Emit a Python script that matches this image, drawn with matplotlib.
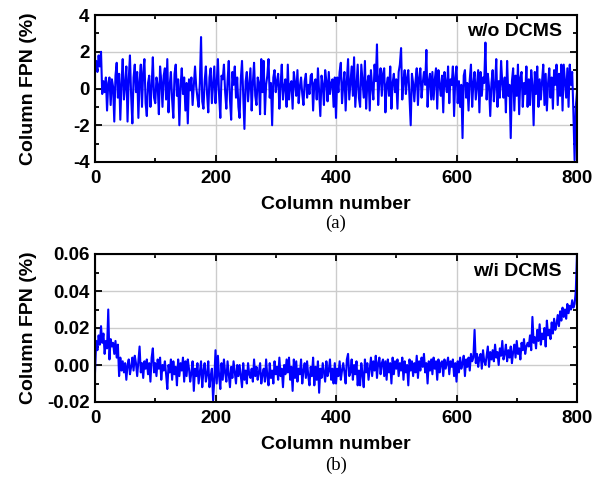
import numpy as np
import matplotlib
matplotlib.use('Agg')
from matplotlib import pyplot as plt
from matplotlib.ticker import MultipleLocator

# Column numbers sampled every 2 columns
columns = list(range(0, 801, 2))

# Column FPN without DCMS (%)
fpn_without = [
    1.0, 1.5, 0.9, 1.8, 1.2, 2.0, -0.3, 0.4, -0.2, 0.6, -1.2, 0.3, 0.6, -0.9, 0.5, 0.1, -1.8, 0.7, 1.4, -0.5,
    0.8, -1.7, 0.3, 1.6, -0.6, 0.2, 1.2, -1.8, 0.5, 1.8, -0.4, -1.9, 0.6, 1.3, -0.2, 0.9, -1.6, 0.4, 1.3, -1.0,
    0.9, 1.6, -0.8, -1.5, 0.3, 0.7, -1.0, 0.1, 1.7, -0.5, -0.8, 0.6, 0.2, -1.4, 1.2, 0.4, -1.0, 0.7, 1.1, -0.6,
    1.6, -1.3, 0.2, 0.9, -0.6, -1.6, 0.8, 1.3, -0.4, 0.5, -2.0, 0.1, 1.1, -0.3, 0.6, -1.2, 0.3, -1.9, 0.5, -0.1,
    0.6, -0.9, 0.2, 1.2, 0.1, -0.5, -1.0, 0.3, 2.8, -0.7, -1.1, 0.4, 1.2, -0.3, -1.3, 0.6, 1.1, -0.8, 0.2, 1.2,
    -0.8, 0.3, 1.6, -0.4, -1.6, 0.7, 0.5, 1.3, -0.2, -1.1, 0.4, 1.5, -0.6, -1.7, 0.9, 0.2, 1.2, -0.5, 0.6, -1.0,
    -1.6, 0.5, 1.5, -0.3, -2.2, 0.4, 0.9, -0.7, 0.2, 1.1, -1.2, 0.3, 1.4, -0.4, -0.9, 0.6, 0.3, -1.4, 1.6, -0.2,
    1.5, -1.4, 0.2, 0.7, 1.6, -0.5, 0.3, -2.0, 0.6, 1.0, -0.2, 0.4, 0.8, -1.1, 0.2, 1.3, -0.6, 0.1, 0.5, -1.0,
    1.3, -0.6, 0.2, 0.4, -1.1, 0.9, 0.3, -0.4, 1.0, -0.8, 0.1, 0.6, -0.3, -0.9, 0.4, 0.8, -0.5, 0.2, -0.3, 0.7,
    0.8, -1.2, 0.3, 0.5, -0.6, 1.1, -0.2, -1.5, 0.7, 0.2, -0.9, 1.0, 0.4, -0.7, 0.9, -0.3, 0.3, 0.5, -1.0, 0.6,
    -1.6, 0.6, -0.2, 0.9, 1.4, -0.8, 0.2, 0.9, -1.2, 0.4, 1.6, -0.6, 0.3, 1.2, -0.4, 1.7, -1.0, 0.2, 1.3, -0.5,
    -1.0, 1.3, 0.4, -0.5, 1.5, -1.1, 0.3, 0.7, -1.2, 1.0, 0.1, -0.6, 1.3, 0.4, 2.4, -0.9, 0.5, 1.1, -0.4, 0.8,
    1.1, -1.3, 0.2, 0.6, -0.4, 1.2, -1.1, 0.3, 0.8, -0.2, 0.5, -1.1, 0.9, 1.3, 2.2, -0.6, 0.4, 1.0, -0.3, 0.6,
    1.0, -0.5, -2.0, 0.8, 0.3, -0.7, 0.4, 1.1, -0.9, 0.6, 1.1, -0.5, 0.3, 0.9, 0.2, 2.1, -1.0, 0.4, 0.8, -0.6,
    0.9, -0.6, 0.5, 1.1, -1.1, 1.0, 0.2, -0.4, 0.7, -1.3, 0.9, 0.3, -0.2, 1.2, -0.8, 0.5, 0.2, 1.2, -1.5, 0.6,
    1.2, -0.8, 0.4, -1.0, 0.2, -2.7, 0.7, 1.0, -0.5, 0.3, -1.2, 0.5, 1.3, -1.0, 0.3, 0.9, -0.6, 0.2, 1.0, -1.3,
    0.9, -0.4, 0.6, 0.3, 2.5, -0.6, 0.8, 0.1, -1.5, 0.3, 1.0, -0.7, 0.2, 1.6, -1.0, 0.4, -0.5, 1.5, 0.3, -0.5,
    0.6, -1.3, 1.5, -0.4, 0.2, -2.7, 0.4, 1.1, -1.2, 0.7, -0.4, 1.3, -1.4, 0.6, 0.9, -1.0, 0.3, -0.3, 1.2, -1.0,
    0.5, -0.9, 1.0, 0.2, -2.0, 0.9, -0.3, 1.2, -1.0, 0.5, -0.6, 0.4, 1.3, -0.9, 0.8, -1.2, 0.3, 1.1, -0.5, 0.6,
    -1.1, 1.0, 0.2, 1.3, -0.9, 0.8, -0.4, 1.3, -1.2, 1.3, 0.4, -0.5, 1.1, -1.0, 1.3, 0.2, 0.9, -1.3, -3.9, -1.0,
    -0.2,
]

# Column FPN with DCMS (%)
fpn_with = [
    -0.004, 0.013, 0.008, 0.016, 0.011, 0.021, 0.012, 0.017, 0.006, 0.013,
    0.009, 0.030, 0.003, 0.014, 0.010, 0.012, 0.006, 0.013, 0.004, 0.011,
    -0.006, 0.004, -0.003, 0.002, -0.004, 0.001, -0.008, 0.000, 0.003, -0.005,
    -0.001, 0.004, -0.003, 0.005, 0.001, -0.006, 0.002, 0.010, -0.004, 0.001,
    -0.007, 0.002, -0.002, 0.003, -0.005, 0.001, -0.009, 0.004, 0.009, -0.004,
    0.001, -0.006, 0.003, -0.002, 0.004, -0.008, 0.000, -0.003, 0.002, -0.005,
    -0.013, 0.000, -0.004, 0.003, -0.008, 0.002, -0.005, -0.001, -0.011, 0.003,
    -0.006, 0.001, -0.003, 0.004, -0.009, 0.002, -0.006, 0.003, -0.002, -0.009,
    -0.004, 0.002, -0.014, -0.002, -0.006, 0.001, -0.010, -0.004, 0.002, -0.012,
    -0.003, 0.001, -0.009, -0.005, 0.002, -0.012, -0.006, -0.002, -0.019, -0.008,
    0.008, -0.010, 0.005, -0.006, -0.013, 0.001, -0.008, 0.003, -0.004, -0.009,
    0.002, -0.005, -0.012, -0.001, -0.007, 0.002, -0.004, -0.010, 0.000, -0.006,
    0.000, -0.006, -0.012, 0.001, -0.008, -0.003, -0.010, 0.001, -0.005, -0.007,
    -0.002, -0.009, 0.003, -0.006, -0.001, -0.008, -0.004, 0.001, -0.010, -0.005,
    -0.002, -0.009, 0.003, -0.006, -0.011, 0.001, -0.007, -0.003, -0.010, 0.002,
    -0.005, -0.001, -0.008, 0.004, -0.006, -0.002, -0.012, 0.000, -0.005, 0.003,
    -0.004, 0.004, -0.008, -0.001, -0.014, 0.003, -0.007, 0.002, -0.009, -0.002,
    -0.005, 0.003, -0.010, -0.003, 0.001, -0.007, 0.002, -0.006, -0.011, -0.001,
    -0.006, 0.004, -0.011, -0.001, -0.008, 0.002, -0.015, -0.002, -0.007, 0.001,
    -0.004, -0.009, 0.002, -0.006, -0.003, 0.003, -0.008, -0.002, -0.010, 0.001,
    -0.010, -0.002, -0.006, 0.002, -0.008, -0.003, 0.001, -0.004, -0.010, 0.003,
    0.006, -0.006, -0.004, 0.003, -0.008, 0.000, -0.005, 0.002, -0.011, -0.003,
    -0.011, 0.001, -0.005, -0.012, 0.003, -0.004, 0.001, -0.008, -0.002, 0.004,
    -0.006, 0.002, -0.003, 0.005, -0.007, 0.001, 0.004, -0.005, 0.001, 0.003,
    -0.006, 0.002, -0.008, 0.003, -0.004, 0.001, -0.010, 0.004, -0.005, 0.002,
    -0.002, 0.003, -0.006, 0.001, -0.003, 0.004, -0.008, 0.002, -0.004, 0.000,
    -0.011, 0.003, -0.003, 0.002, -0.006, 0.001, -0.004, 0.005, -0.007, 0.002,
    -0.003, 0.004, -0.001, 0.006, -0.004, 0.001, -0.010, 0.002, -0.003, 0.003,
    -0.005, 0.004, -0.002, 0.002, -0.008, 0.003, -0.004, 0.001, 0.002, -0.006,
    0.003, -0.002, 0.001, 0.004, -0.005, 0.002, -0.001, 0.003, -0.006, 0.001,
    -0.009, 0.002, -0.004, 0.004, -0.002, 0.001, 0.005, -0.006, 0.003, -0.001,
    0.004, -0.003, 0.006, 0.002, 0.004, 0.019, 0.001, 0.006, -0.001, 0.004,
    0.006, -0.002, 0.008, 0.002, 0.000, 0.005, 0.010, -0.001, 0.007, 0.003,
    0.008, 0.002, 0.011, 0.004, 0.007, 0.000, 0.009, 0.005, 0.013, 0.003,
    0.006, 0.011, 0.002, 0.008, 0.004, 0.010, 0.001, 0.007, 0.011, 0.004,
    0.013, 0.006, 0.009, 0.003, 0.012, 0.008, 0.014, 0.006, 0.010, 0.012,
    0.010, 0.016, 0.008, 0.026, 0.012, 0.015, 0.009, 0.019, 0.013, 0.022,
    0.011, 0.017, 0.014, 0.020, 0.010, 0.024, 0.016, 0.019, 0.014, 0.023,
    0.017, 0.025, 0.019, 0.022, 0.027, 0.021, 0.029, 0.024, 0.031, 0.026,
    0.030, 0.025, 0.033, 0.028, 0.032, 0.030, 0.035, 0.031, 0.033, 0.040,
    0.060,
]

panel_labels = ['w/o DCMS', 'w/i DCMS']
captions = ['(a)', '(b)']

plt.rcParams['font.family'] = ['Liberation Sans', 'DejaVu Sans']

fig = plt.figure(figsize=(6.02, 4.83), dpi=100)
ax_top = fig.add_axes([95 / 602, 1 - 162 / 483, 482 / 602, 147 / 483])
ax_bot = fig.add_axes([95 / 602, 1 - 402 / 483, 482 / 602, 148 / 483])


def style_axis(ax, ylim, ymajor, yminor, yfmt):
    ax.set_xlim(0, 800)
    ax.xaxis.set_major_locator(MultipleLocator(200))
    ax.xaxis.set_minor_locator(MultipleLocator(100))
    ax.yaxis.set_major_locator(MultipleLocator(ymajor))
    ax.yaxis.set_minor_locator(MultipleLocator(yminor))
    ax.set_ylim(*ylim)
    ax.yaxis.set_major_formatter(plt.FuncFormatter(lambda v, p: yfmt.format(v + 0.0)))
    ax.grid(True, which='major', color='#cccccc', linewidth=1.0)
    ax.set_axisbelow(True)
    ax.tick_params(which='both', direction='in', top=True, right=True,
                   labelsize=13.5, width=1.3)
    ax.tick_params(axis='x', pad=6)
    ax.tick_params(axis='y', pad=4)
    ax.tick_params(which='major', length=5)
    ax.tick_params(which='minor', length=3)
    for lbl in ax.get_xticklabels() + ax.get_yticklabels():
        lbl.set_fontweight('bold')
    for sp in ax.spines.values():
        sp.set_linewidth(1.5)
    ax.set_xlabel('Column number', fontsize=14, fontweight='bold', labelpad=6)
    ax.set_ylabel('Column FPN (%)', fontsize=14, fontweight='bold')
    ax.yaxis.set_label_coords(-0.121, 0.5)


ax_top.plot(columns, fpn_without, color='#0000ff', linewidth=1.5)
style_axis(ax_top, (-4, 4), 2, 1, '{:.0f}')
ax_top.text(0.969, 0.885, panel_labels[0], transform=ax_top.transAxes,
            ha='right', va='center', fontsize=14, fontweight='bold')

ax_bot.plot(columns, fpn_with, color='#0000ff', linewidth=1.5)
style_axis(ax_bot, (-0.02, 0.06), 0.02, 0.01, '{:.2f}')
ax_bot.text(0.969, 0.885, panel_labels[1], transform=ax_bot.transAxes,
            ha='right', va='center', fontsize=14, fontweight='bold')

fig.text(336 / 602, 1 - 223 / 483, captions[0], ha='center', va='center',
         fontsize=13.5, family='Liberation Serif')
fig.text(336 / 602, 1 - 465 / 483, captions[1], ha='center', va='center',
         fontsize=13.5, family='Liberation Serif')

fig.savefig('out.png', dpi=100)
